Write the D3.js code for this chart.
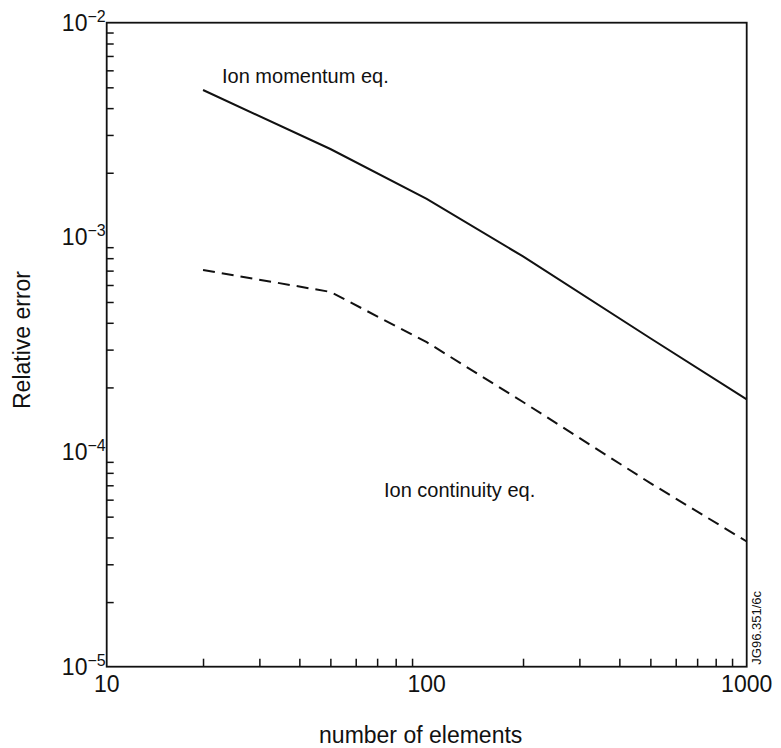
<!DOCTYPE html>
<html>
<head>
<meta charset="utf-8">
<script src="https://cdn.jsdelivr.net/npm/d3@7"></script>
<style>
  html, body { margin: 0; padding: 0; background: #fff; }
  svg { display: block; font-family: "Liberation Sans", Arial, Helvetica, sans-serif; }
</style>
</head>
<body>
<svg id="chart" width="781" height="748"></svg>
<script>
// Relative error versus number of elements (log–log)
const elements = [20, 50, 100, 200, 500, 1000];
const momentumError = [4.86e-3, 2.58e-3, 1.51e-3, 8.15e-4, 3.39e-4, 1.76e-4];
const continuityError = [7.05e-4, 5.57e-4, 3.25e-4, 1.71e-4, 7.16e-5, 3.83e-5];

const xDecades = [10, 100, 1000];
const xDecadeLabels = ["10", "100", "1000"];
const yDecades = [1e-2, 1e-3, 1e-4, 1e-5];
const yDecadeExponents = ["−2", "−3", "−4", "−5"];

const xMinor = [20, 30, 40, 50, 60, 70, 80, 90, 200, 300, 400, 500, 600, 700, 800, 900];
const yMinor = [];
[1e-5, 1e-4, 1e-3].forEach(d => { for (let k = 2; k <= 9; k++) yMinor.push(k * d); });

const svg = d3.select("#chart");
const plotLeft = 106.7, plotRight = 746.7, plotTop = 22.7, plotBottom = 666.7;

const x = d3.scaleLog().domain([10, 1000]).range([plotLeft, plotRight]);
const y = d3.scaleLog().domain([1e-5, 1e-2]).range([plotBottom, plotTop]);

// inward minor ticks
const xAxis = d3.axisBottom(x).tickValues(xMinor).tickSizeInner(-8).tickSizeOuter(0).tickFormat("");
const gx = svg.append("g").attr("transform", `translate(0,${plotBottom})`).call(xAxis);
gx.select(".domain").remove();
gx.selectAll(".tick line").attr("stroke", "#111").attr("stroke-width", 1.5);

const yAxis = d3.axisLeft(y).tickValues(yMinor).tickSizeInner(-7).tickSizeOuter(0).tickFormat("");
const gy = svg.append("g").attr("transform", `translate(${plotLeft},0)`).call(yAxis);
gy.select(".domain").remove();
gy.selectAll(".tick line").attr("stroke", "#111").attr("stroke-width", 1.5);

// frame
svg.append("rect")
  .attr("x", plotLeft).attr("y", plotTop)
  .attr("width", plotRight - plotLeft).attr("height", plotBottom - plotTop)
  .attr("fill", "none").attr("stroke", "#111").attr("stroke-width", 1.8);

// x decade labels
svg.append("g").selectAll("text").data(xDecades).join("text")
  .attr("x", d => x(d)).attr("y", plotBottom + 25)
  .attr("text-anchor", "middle")
  .attr("font-size", 23).attr("fill", "#111")
  .text((d, i) => xDecadeLabels[i]);

// y decade labels: 10 with superscript exponent
const yl = svg.append("g").selectAll("text").data(yDecades).join("text")
  .attr("x", plotLeft - 1).attr("y", d => y(d) + 8)
  .attr("text-anchor", "end")
  .attr("fill", "#111");
yl.append("tspan").attr("font-size", 23).text("10");
yl.append("tspan").attr("font-size", 16).attr("dy", -9).text((d, i) => yDecadeExponents[i]);

// curves
const line = d3.line().x(d => x(d[0])).y(d => y(d[1]));

svg.append("path")
  .datum(elements.map((e, i) => [e, momentumError[i]]))
  .attr("d", line)
  .attr("fill", "none").attr("stroke", "#111").attr("stroke-width", 2);

svg.append("path")
  .datum(elements.map((e, i) => [e, continuityError[i]]))
  .attr("d", line)
  .attr("fill", "none").attr("stroke", "#111").attr("stroke-width", 2)
  .attr("stroke-dasharray", "12,7");

// curve labels
svg.append("text").attr("x", 222).attr("y", 83)
  .attr("font-size", 20).attr("fill", "#111").text("Ion momentum eq.");
svg.append("text").attr("x", 384).attr("y", 497)
  .attr("font-size", 20).attr("fill", "#111").text("Ion continuity eq.");

// axis titles
svg.append("text")
  .attr("x", (plotLeft + plotRight) / 2 - 6).attr("y", 743)
  .attr("text-anchor", "middle").attr("font-size", 23).attr("fill", "#111")
  .text("number of elements");

svg.append("text")
  .attr("transform", "translate(30,340) rotate(-90)")
  .attr("text-anchor", "middle").attr("font-size", 23).attr("fill", "#111")
  .text("Relative error");

// figure reference
svg.append("text")
  .attr("transform", `translate(761,${plotBottom - 2}) rotate(-90)`)
  .attr("text-anchor", "start").attr("font-size", 13).attr("fill", "#111")
  .text("JG96.351/6c");
</script>
</body>
</html>
